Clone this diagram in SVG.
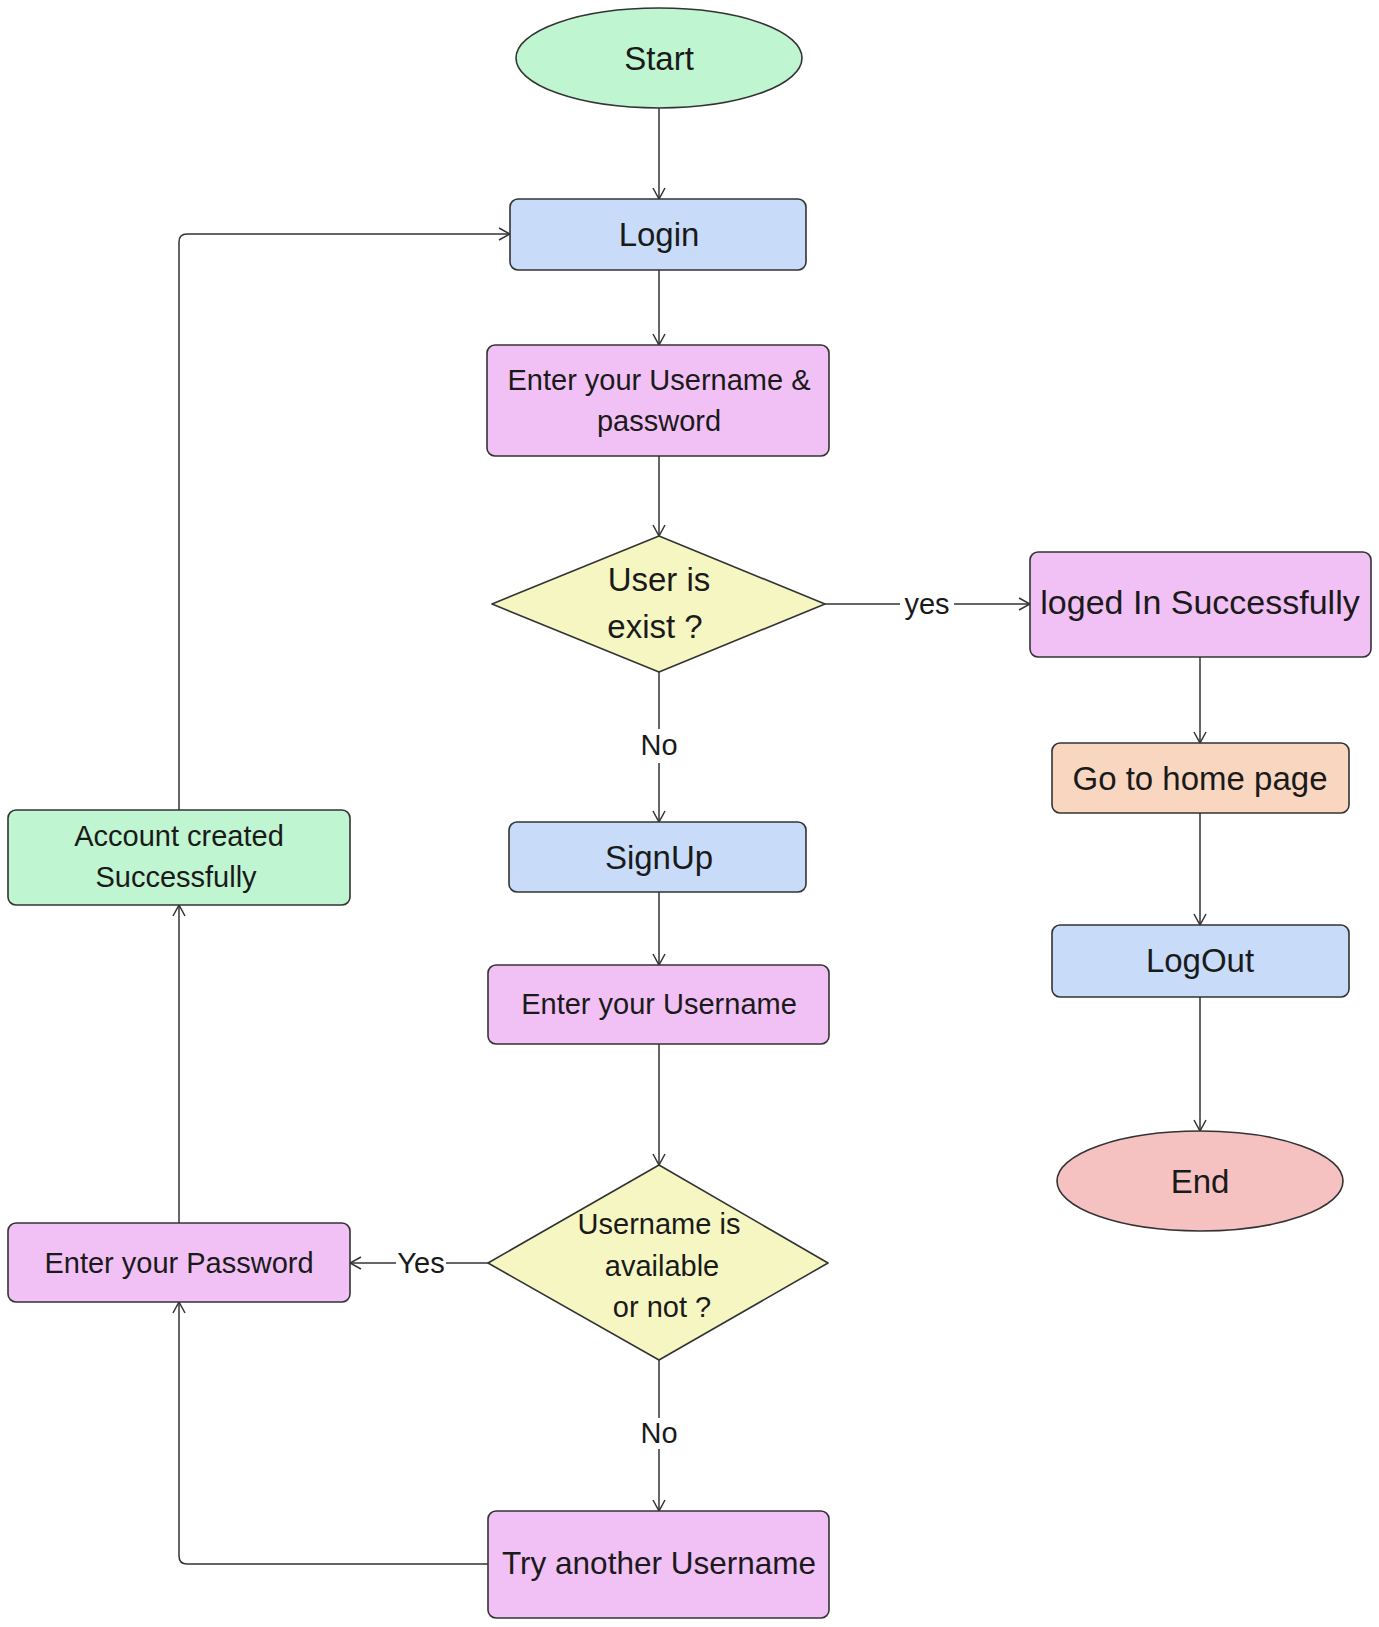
<svg xmlns="http://www.w3.org/2000/svg" width="1379" height="1627" viewBox="0 0 1379 1627">
  <defs>
    <marker id="arr" viewBox="0 0 14 14" refX="13" refY="7" markerWidth="14" markerHeight="14" orient="auto" markerUnits="userSpaceOnUse">
      <path d="M2,1 L13,7 L2,13" fill="none" stroke="#333" stroke-width="1.5"/>
    </marker>
    <style>
      .shape { stroke: #333; stroke-width: 1.6; }
      .green { fill: #c0f5d1; }
      .blue { fill: #c8dcf9; }
      .pink { fill: #f1c1f5; }
      .yellow { fill: #f6f6c2; }
      .peach { fill: #f8d6c0; }
      .red { fill: #f6c1c1; }
      text { font-family: "Liberation Sans", Arial, sans-serif; fill: #1a1a1a; text-anchor: middle; }
      .big { font-size: 33px; }
      .mid { font-size: 29px; }
      .lbl { font-size: 29px; }
      .conn { fill: none; stroke: #333; stroke-width: 1.5; }
    </style>
  </defs>
  <rect width="1379" height="1627" fill="#ffffff"/>

  <!-- connectors -->
  <g id="connectors">
    <path class="conn" d="M659,108 L659,199" marker-end="url(#arr)"/>
    <path class="conn" d="M659,270 L659,345" marker-end="url(#arr)"/>
    <path class="conn" d="M659,456 L659,536" marker-end="url(#arr)"/>
    <path class="conn" d="M825,604 L900,604"/>
    <path class="conn" d="M954,604 L1030,604" marker-end="url(#arr)"/>
    <path class="conn" d="M659,672 L659,729"/>
    <path class="conn" d="M659,763 L659,822" marker-end="url(#arr)"/>
    <path class="conn" d="M1200,657 L1200,743" marker-end="url(#arr)"/>
    <path class="conn" d="M1200,813 L1200,925" marker-end="url(#arr)"/>
    <path class="conn" d="M1200,997 L1200,1131" marker-end="url(#arr)"/>
    <path class="conn" d="M659,892 L659,965" marker-end="url(#arr)"/>
    <path class="conn" d="M659,1044 L659,1165" marker-end="url(#arr)"/>
    <path class="conn" d="M488,1263 L446,1263"/>
    <path class="conn" d="M396,1263 L350,1263" marker-end="url(#arr)"/>
    <path class="conn" d="M659,1360 L659,1418"/>
    <path class="conn" d="M659,1449 L659,1511" marker-end="url(#arr)"/>
    <path class="conn" d="M488,1564 L187,1564 Q179,1564 179,1556 L179,1302" marker-end="url(#arr)"/>
    <path class="conn" d="M179,1223 L179,905" marker-end="url(#arr)"/>
    <path class="conn" d="M179,810 L179,242 Q179,234 187,234 L510,234" marker-end="url(#arr)"/>
    <text class="lbl" x="927" y="614">yes</text>
    <text class="lbl" x="659" y="755">No</text>
    <text class="lbl" x="421" y="1273">Yes</text>
    <text class="lbl" x="659" y="1443">No</text>
  </g>

  <g id="start">
    <ellipse class="shape green" cx="659" cy="58" rx="143" ry="50"/>
    <text class="big" x="659" y="70">Start</text>
  </g>

  <g id="login">
    <rect class="shape blue" x="510" y="199" width="296" height="71" rx="8"/>
    <text class="big" x="659" y="246">Login</text>
  </g>

  <g id="enter-credentials">
    <rect class="shape pink" x="487" y="345" width="342" height="111" rx="8"/>
    <text class="mid" x="659" y="390">Enter your Username &amp;</text>
    <text class="mid" x="659" y="431">password</text>
  </g>

  <g id="user-exists">
    <path class="shape yellow" d="M659,536 L825,604 L659,672 L492,604 Z" stroke-linejoin="round"/>
    <text class="big" x="659" y="591">User is</text>
    <text class="big" x="655" y="638">exist ?</text>
  </g>

  <g id="logged-in">
    <rect class="shape pink" x="1030" y="552" width="341" height="105" rx="8"/>
    <text class="big" x="1200" y="614" style="font-size:34px">loged In Successfully</text>
  </g>

  <g id="home-page">
    <rect class="shape peach" x="1052" y="743" width="297" height="70" rx="8"/>
    <text class="big" x="1200" y="790">Go to home page</text>
  </g>

  <g id="logout">
    <rect class="shape blue" x="1052" y="925" width="297" height="72" rx="8"/>
    <text class="big" x="1200" y="972">LogOut</text>
  </g>

  <g id="end">
    <ellipse class="shape red" cx="1200" cy="1181" rx="143" ry="50"/>
    <text class="big" x="1200" y="1193">End</text>
  </g>

  <g id="signup">
    <rect class="shape blue" x="509" y="822" width="297" height="70" rx="8"/>
    <text class="big" x="659" y="869">SignUp</text>
  </g>

  <g id="enter-username">
    <rect class="shape pink" x="488" y="965" width="341" height="79" rx="8"/>
    <text class="mid" x="659" y="1014">Enter your Username</text>
  </g>

  <g id="username-available">
    <path class="shape yellow" d="M659,1165 L828,1263 L659,1360 L488,1263 Z" stroke-linejoin="round"/>
    <text class="mid" x="659" y="1234">Username is</text>
    <text class="mid" x="662" y="1276">available</text>
    <text class="mid" x="662" y="1317">or not ?</text>
  </g>

  <g id="enter-password">
    <rect class="shape pink" x="8" y="1223" width="342" height="79" rx="8"/>
    <text class="mid" x="179" y="1273">Enter your Password</text>
  </g>

  <g id="try-another">
    <rect class="shape pink" x="488" y="1511" width="341" height="107" rx="8"/>
    <text class="big" x="659" y="1574" style="font-size:31.5px">Try another Username</text>
  </g>

  <g id="account-created">
    <rect class="shape green" x="8" y="810" width="342" height="95" rx="8"/>
    <text class="mid" x="179" y="846">Account created</text>
    <text class="mid" x="176" y="887">Successfully</text>
  </g>
</svg>
